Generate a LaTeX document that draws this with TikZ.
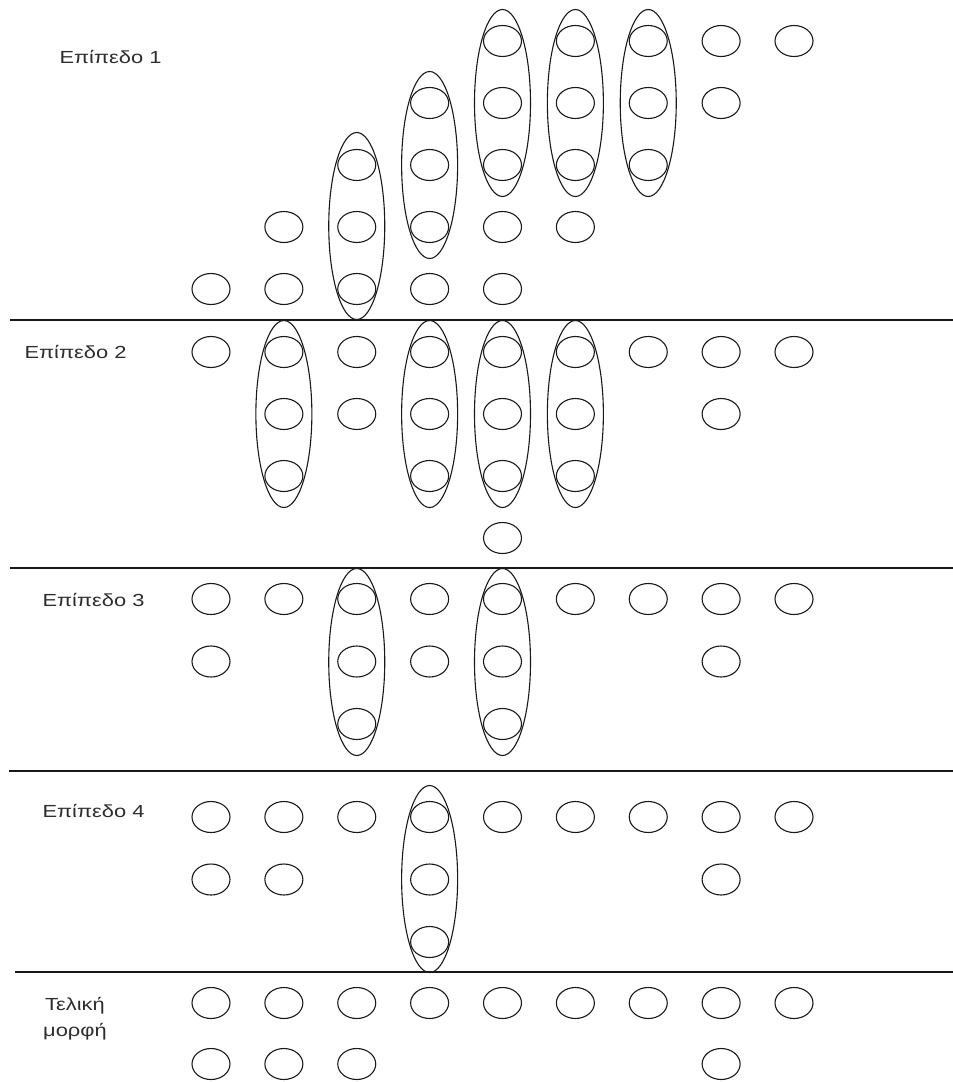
\documentclass[tikz,border=0pt]{standalone}
\usepackage{fontspec}
\setmainfont{Liberation Sans}
\newfontfamily\lblfont[FakeStretch=1.25]{Liberation Sans}
\usetikzlibrary{shapes.geometric}
\definecolor{lblgray}{RGB}{45, 45, 45}
\definecolor{inkline}{RGB}{25, 25, 25}
\tikzset{
  tok/.style = {
    ellipse, draw=inkline, line width=1.1pt,
    minimum width=38pt, minimum height=31pt, inner sep=0pt
  },
  grp/.style = {
    ellipse, draw=inkline, line width=1.1pt,
    minimum width=56pt, minimum height=187pt, inner sep=0pt
  },
  lvl/.style = {
    font=\lblfont\fontsize{17.5}{26}\selectfont, text=lblgray,
    inner sep=0pt, align=center
  },
  sep/.style = {draw=inkline, line width=1.3pt},
}

\begin{document}
\begin{tikzpicture}[x=1pt, y=-1pt]

  \useasboundingbox (0,0) rectangle (953,1082);

  % Level labels
  \node[lvl] (lab1) at (110.5, 57)  {Επίπεδο 1};
  \node[lvl] (lab2) at (75.5, 352)  {Επίπεδο 2};
  \node[lvl] (lab3) at (93.5, 600)  {Επίπεδο 3};
  \node[lvl] (lab4) at (93.5, 811)  {Επίπεδο 4};
  \node[lvl] (lab5) at (75, 1019)   {Τελική\\μορφή};

  % Separators
  \draw[sep] (10,320) -- (953,320);
  \draw[sep] (10,568) -- (953,568);
  \draw[sep] (9,771)  -- (953,771);
  \draw[sep] (15,972) -- (953,972);

  % Level 1 (staircase)
  \foreach \r in {1,...,5}
    \foreach \k in {0,...,4} {
      \pgfmathtruncatemacro\c{6-\r+\k}
      \node[tok] (a\r-\c) at ({211+72.875*(\c-1)}, {41+62*(\r-1)}) {};
    }
  \node[grp] (ga3) at ({211+72.875*2}, 226) {};
  \node[grp] (ga4) at ({211+72.875*3}, 165) {};
  \foreach \c in {5,6,7}
    \node[grp] (ga\c) at ({211+72.875*(\c-1)}, 103) {};

  % Level 2
  \foreach \c in {1,...,9}
    \node[tok] (b1-\c) at ({211+72.875*(\c-1)}, 352) {};
  \foreach \r/\c in {2/2,2/3,2/4,2/5,2/6,2/8,3/2,3/4,3/5,3/6,4/5}
    \node[tok] (b\r-\c) at ({211+72.875*(\c-1)}, {352+62*(\r-1)}) {};
  \foreach \c in {2,4,5,6}
    \node[grp] (gb\c) at ({211+72.875*(\c-1)}, 414) {};

  % Level 3
  \foreach \c in {1,...,9}
    \node[tok] (c1-\c) at ({211+72.875*(\c-1)}, 599) {};
  \foreach \r/\c in {2/1,2/3,2/4,2/5,2/8,3/3,3/5}
    \node[tok] (c\r-\c) at ({211+72.875*(\c-1)}, {599+62.5*(\r-1)}) {};
  \foreach \c in {3,5}
    \node[grp] (gc\c) at ({211+72.875*(\c-1)}, 662) {};

  % Level 4
  \foreach \c in {1,...,9}
    \node[tok] (d1-\c) at ({211+72.875*(\c-1)}, 817) {};
  \foreach \r/\c in {2/1,2/2,2/4,2/8,3/4}
    \node[tok] (d\r-\c) at ({211+72.875*(\c-1)}, {817+62.5*(\r-1)}) {};
  \node[grp] (gd4) at ({211+72.875*3}, 879) {};

  % Final form
  \foreach \c in {1,...,9}
    \node[tok] (e1-\c) at ({211+72.875*(\c-1)}, 1003) {};
  \foreach \c in {1,2,3,8}
    \node[tok] (e2-\c) at ({211+72.875*(\c-1)}, 1064) {};

\end{tikzpicture}
\end{document}
